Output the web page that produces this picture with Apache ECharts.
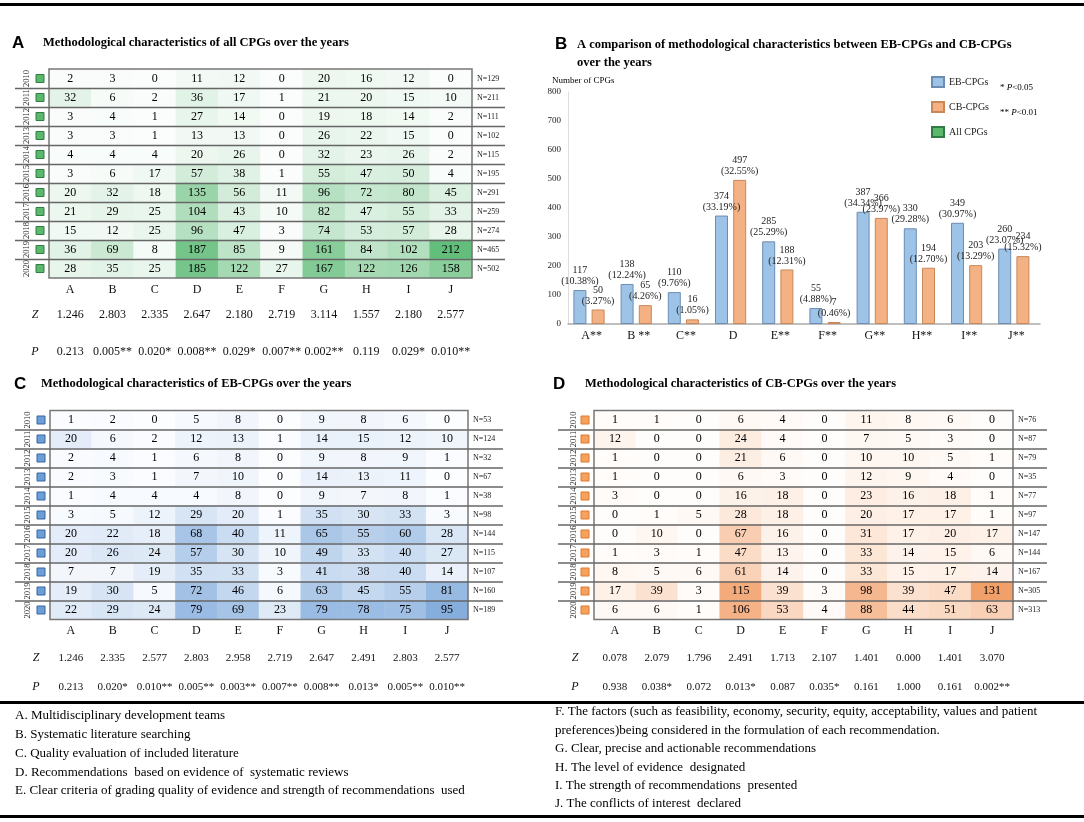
<!DOCTYPE html>
<html><head><meta charset="utf-8">
<script src="https://cdn.jsdelivr.net/npm/echarts@6/dist/echarts.min.js"></script>
<style>html,body{margin:0;padding:0;background:#fff}#c{width:1084px;height:822px}</style>
</head><body><div id="c"></div>
<script>
const features = ['A','B','C','D','E','F','G','H','I','J'];
const years = ['2010','2011','2012','2013','2014','2015','2016','2017','2018','2019','2020'];

const allCounts = [
  [2,3,0,11,12,0,20,16,12,0],
  [32,6,2,36,17,1,21,20,15,10],
  [3,4,1,27,14,0,19,18,14,2],
  [3,3,1,13,13,0,26,22,15,0],
  [4,4,4,20,26,0,32,23,26,2],
  [3,6,17,57,38,1,55,47,50,4],
  [20,32,18,135,56,11,96,72,80,45],
  [21,29,25,104,43,10,82,47,55,33],
  [15,12,25,96,47,3,74,53,57,28],
  [36,69,8,187,85,9,161,84,102,212],
  [28,35,25,185,122,27,167,122,126,158]
];
const allN = ['N=129','N=211','N=111','N=102','N=115','N=195','N=291','N=259','N=274','N=465','N=502'];
const allZ = ['1.246','2.803','2.335','2.647','2.180','2.719','3.114','1.557','2.180','2.577'];
const allP = ['0.213','0.005**','0.020*','0.008**','0.029*','0.007**','0.002**','0.119','0.029*','0.010**'];

const ebCounts = [
  [1,2,0,5,8,0,9,8,6,0],
  [20,6,2,12,13,1,14,15,12,10],
  [2,4,1,6,8,0,9,8,9,1],
  [2,3,1,7,10,0,14,13,11,0],
  [1,4,4,4,8,0,9,7,8,1],
  [3,5,12,29,20,1,35,30,33,3],
  [20,22,18,68,40,11,65,55,60,28],
  [20,26,24,57,30,10,49,33,40,27],
  [7,7,19,35,33,3,41,38,40,14],
  [19,30,5,72,46,6,63,45,55,81],
  [22,29,24,79,69,23,79,78,75,95]
];
const ebN = ['N=53','N=124','N=32','N=67','N=38','N=98','N=144','N=115','N=107','N=160','N=189'];
const ebZ = ['1.246','2.335','2.577','2.803','2.958','2.719','2.647','2.491','2.803','2.577'];
const ebP = ['0.213','0.020*','0.010**','0.005**','0.003**','0.007**','0.008**','0.013*','0.005**','0.010**'];

const cbCounts = [
  [1,1,0,6,4,0,11,8,6,0],
  [12,0,0,24,4,0,7,5,3,0],
  [1,0,0,21,6,0,10,10,5,1],
  [1,0,0,6,3,0,12,9,4,0],
  [3,0,0,16,18,0,23,16,18,1],
  [0,1,5,28,18,0,20,17,17,1],
  [0,10,0,67,16,0,31,17,20,17],
  [1,3,1,47,13,0,33,14,15,6],
  [8,5,6,61,14,0,33,15,17,14],
  [17,39,3,115,39,3,98,39,47,131],
  [6,6,1,106,53,4,88,44,51,63]
];
const cbN = ['N=76','N=87','N=79','N=35','N=77','N=97','N=147','N=144','N=167','N=305','N=313'];
const cbZ = ['0.078','2.079','1.796','2.491','1.713','2.107','1.401','0.000','1.401','3.070'];
const cbP = ['0.938','0.038*','0.072','0.013*','0.087','0.035*','0.161','1.000','0.161','0.002**'];

const barCategories = ['A**','B **','C**','D','E**','F**','G**','H**','I**','J**'];
const ebTotals = [117,138,110,374,285,55,387,330,349,260];
const ebPct = ['10.38%','12.24%','9.76%','33.19%','25.29%','4.88%','34.34%','29.28%','30.97%','23.07%'];
const cbTotals = [50,65,16,497,188,7,366,194,203,234];
const cbPct = ['3.27%','4.26%','1.05%','32.55%','12.31%','0.46%','23.97%','12.70%','13.29%','15.32%'];
const barTicks = {min:0, max:800, interval:100};

const legendLeft = [
  'A. Multidisciplinary development teams',
  'B. Systematic literature searching',
  'C. Quality evaluation of included literature',
  'D. Recommendations  based on evidence of  systematic reviews',
  'E. Clear criteria of grading quality of evidence and strength of recommendations  used'
];
const legendRight = [
  'F. The factors (such as feasibility, economy, security, equity, acceptability, values and patient',
  'preferences)being considered in the formulation of each recommendation.',
  'G. Clear, precise and actionable recommendations',
  'H. The level of evidence  designated',
  'I. The strength of recommendations  presented',
  'J. The conflicts of interest  declared'
];

const SERIF = '"Liberation Serif", "Times New Roman", serif';
const SANS = '"Liberation Sans", Arial, sans-serif';

function toCells(m){ const out=[]; m.forEach((row,r)=>row.forEach((v,c)=>out.push([c,r,v]))); return out; }

function heatAxes(gi, letterMargin, yearMargin){
  return {
    x: {type:'category', gridIndex:gi, data:features, axisLine:{show:false}, axisTick:{show:false},
        axisLabel:{interval:0, margin:letterMargin, fontFamily:SERIF, fontSize:12, color:'#111'}, splitLine:{show:false}},
    y: {type:'category', gridIndex:gi, data:years, inverse:true, axisLine:{show:false}, axisTick:{show:false},
        axisLabel:{interval:0, rotate:90, margin:yearMargin, fontFamily:SERIF, fontSize:8.5, color:'#222'}, splitLine:{show:false}}
  };
}
function nAxis(gi, arr){
  return {type:'category', gridIndex:gi, position:'right', data:arr, inverse:true, axisLine:{show:false}, axisTick:{show:false},
    axisLabel:{interval:0, margin:5, fontFamily:SERIF, fontSize:8, color:'#222', padding:[5,0,0,0]}, splitLine:{show:false}};
}
function heatSeries(xi, yi, counts){
  return {type:'heatmap', xAxisIndex:xi, yAxisIndex:yi, data:toCells(counts),
    label:{show:true, fontFamily:SERIF, fontSize:12, color:'#000'}, itemStyle:{borderWidth:0}, emphasis:{disabled:true}};
}
function decorSeries(xi, yi, fill, stroke, leftExt, rightExt){
  return {type:'custom', xAxisIndex:xi, yAxisIndex:yi, clip:false, silent:true, z:5,
    data: years.map((y,i)=>[0,i]),
    renderItem(params, api){
      const cs = params.coordSys; const i = params.dataIndex;
      const c = api.coord([0,i]); const h = api.size([1,1])[1];
      const ch = [{type:'rect', shape:{x:cs.x-13, y:c[1]-4, width:8, height:8}, style:{fill:fill, stroke:stroke, lineWidth:1}}];
      if (i < years.length-1) ch.push({type:'line', shape:{x1:cs.x-leftExt, y1:c[1]+h/2+0.5, x2:cs.x+cs.width+rightExt, y2:c[1]+h/2+0.5}, style:{stroke:'#666', lineWidth:1.5}});
      if (i === 0) ch.push({type:'rect', shape:{x:cs.x, y:cs.y, width:cs.width, height:cs.height}, style:{fill:null, stroke:'#777', lineWidth:1.5}});
      return {type:'group', children:ch};
    }};
}
function statsSeries(xi, yi, zArr, pArr, zOff, pOff, fs, labelDx){
  return {type:'custom', xAxisIndex:xi, yAxisIndex:yi, clip:false, silent:true, z:5,
    data: zArr.map((z,i)=>[i,0]),
    renderItem(params, api){
      const cs = params.coordSys; const i = params.dataIndex;
      const x = api.coord([i,0])[0]; const yb = cs.y + cs.height;
      const ch = [
        {type:'text', style:{text:zArr[i], x:x, y:yb+zOff, align:'center', verticalAlign:'middle', fontFamily:SERIF, fontSize:fs, fill:'#111'}},
        {type:'text', style:{text:pArr[i], x:x, y:yb+pOff, align:'center', verticalAlign:'middle', fontFamily:SERIF, fontSize:fs, fill:'#111'}}
      ];
      if (i===0){
        ch.push({type:'text', style:{text:'Z', x:cs.x+labelDx, y:yb+zOff, align:'center', verticalAlign:'middle', fontFamily:SERIF, fontStyle:'italic', fontSize:12, fill:'#111'}});
        ch.push({type:'text', style:{text:'P', x:cs.x+labelDx, y:yb+pOff, align:'center', verticalAlign:'middle', fontFamily:SERIF, fontStyle:'italic', fontSize:12, fill:'#111'}});
      }
      return {type:'group', children:ch};
    }};
}

const aAx = heatAxes(0, 6, 18), cAx = heatAxes(1, 5, 18), dAx = heatAxes(2, 5, 16);

function txt(x, y, text, font, extra){
  return Object.assign({type:'text', x:x, y:y, silent:true, style:{text:text, font:font, fill:'#000', verticalAlign:'middle'}}, extra||{});
}
const graphics = [
  {type:'rect', shape:{x:0, y:3, width:1084, height:3}, style:{fill:'#000'}, silent:true},
  {type:'rect', shape:{x:0, y:701, width:1084, height:3}, style:{fill:'#000'}, silent:true},
  {type:'rect', shape:{x:0, y:815, width:1084, height:3}, style:{fill:'#000'}, silent:true},
  txt(12, 43, 'A', 'bold 17px ' + SANS),
  txt(43, 43, 'Methodological characteristics of all CPGs over the years', 'bold 12.5px ' + SERIF),
  txt(555, 44, 'B', 'bold 17px ' + SANS),
  txt(577, 45, 'A comparison of methodological characteristics between EB-CPGs and CB-CPGs', 'bold 12.5px ' + SERIF),
  txt(577, 63, 'over the years', 'bold 12.5px ' + SERIF),
  txt(552, 81, 'Number of CPGs', '9px ' + SERIF),
  {type:'text', x:1000, y:88, silent:true, style:{text:'{n|* }{i|P}{n|<0.05}', verticalAlign:'middle', rich:{n:{fontFamily:SERIF, fontSize:9, fill:'#000'}, i:{fontFamily:SERIF, fontSize:9, fontStyle:'italic', fill:'#000'}}}},
  {type:'text', x:1000, y:113, silent:true, style:{text:'{n|** }{i|P}{n|<0.01}', verticalAlign:'middle', rich:{n:{fontFamily:SERIF, fontSize:9, fill:'#000'}, i:{fontFamily:SERIF, fontSize:9, fontStyle:'italic', fill:'#000'}}}},
  txt(14, 384, 'C', 'bold 17px ' + SANS),
  txt(41, 384, 'Methodological characteristics of EB-CPGs over the years', 'bold 12.5px ' + SERIF),
  txt(553, 384, 'D', 'bold 17px ' + SANS),
  txt(585, 384, 'Methodological characteristics of CB-CPGs over the years', 'bold 12.5px ' + SERIF)
];
legendLeft.forEach((t,i)=>graphics.push(txt(15, 716 + i*18.7, t, '13px ' + SERIF)));
legendRight.forEach((t,i)=>graphics.push(txt(555, 712 + i*18.4, t, '13px ' + SERIF)));

const option = {
  backgroundColor:'#fff',
  animation:false,
  textStyle:{fontFamily:SERIF},
  grid:[
    {left:49, top:69, width:423, height:209},
    {left:50, top:410.5, width:418, height:209},
    {left:594, top:410.5, width:419, height:209},
    {left:568, top:92, width:472, height:232}
  ],
  xAxis:[aAx.x, cAx.x, dAx.x,
    {type:'category', gridIndex:3, data:barCategories, axisLine:{lineStyle:{color:'#aaa', width:1.5}}, axisTick:{show:false},
     axisLabel:{interval:0, margin:6, fontFamily:SERIF, fontSize:12, color:'#111'}}],
  yAxis:[aAx.y, nAxis(0, allN), cAx.y, nAxis(1, ebN), dAx.y, nAxis(2, cbN),
    {type:'value', gridIndex:3, min:barTicks.min, max:barTicks.max, interval:barTicks.interval,
     axisLine:{show:true, lineStyle:{color:'#ddd'}}, axisTick:{show:false}, splitLine:{show:false},
     axisLabel:{margin:7, fontFamily:SERIF, fontSize:9, color:'#222'}}],
  visualMap:[
    {show:false, seriesIndex:0, min:0, max:212, inRange:{color:['#fbfdfc','#63BE7B']}},
    {show:false, seriesIndex:3, min:0, max:95, inRange:{color:['#fcfdff','#86AEDD']}},
    {show:false, seriesIndex:6, min:0, max:131, inRange:{color:['#fffdfb','#F2A06A']}}
  ],
  legend:{data:['EB-CPGs','CB-CPGs','All CPGs'], orient:'vertical', left:926, top:71, itemWidth:12, itemHeight:10, itemGap:13,
    icon:'rect', textStyle:{fontFamily:SERIF, fontSize:10, color:'#222'}, selectedMode:false},
  series:[
    heatSeries(0, 0, allCounts),
    decorSeries(0, 0, '#5cb86c', '#2f7d44', 34, 33),
    statsSeries(0, 0, allZ, allP, 37, 74, 12, -14),
    heatSeries(1, 2, ebCounts),
    decorSeries(1, 2, '#6b9fd8', '#3a64a0', 35, 35),
    statsSeries(1, 2, ebZ, ebP, 38.5, 67.5, 11, -14),
    heatSeries(2, 4, cbCounts),
    decorSeries(2, 4, '#f5a25f', '#e0782c', 36, 34),
    statsSeries(2, 4, cbZ, cbP, 38.5, 67.5, 11, -19),
    {name:'EB-CPGs', type:'bar', xAxisIndex:3, yAxisIndex:6, data:ebTotals, barWidth:13, barGap:'40%',
     itemStyle:{color:'#9dc3e6', borderColor:'#6d8cb4', borderWidth:1},
     label:{show:true, position:'top', distance:3, fontFamily:SERIF, fontSize:10, lineHeight:11, color:'#222',
       formatter:(p)=>p.value + '\n(' + ebPct[p.dataIndex] + ')'}},
    {name:'CB-CPGs', type:'bar', xAxisIndex:3, yAxisIndex:6, data:cbTotals, barWidth:13, barGap:'40%',
     itemStyle:{color:'#f4b183', borderColor:'#c8885a', borderWidth:1},
     label:{show:true, position:'top', distance:3, fontFamily:SERIF, fontSize:10, lineHeight:11, color:'#222',
       formatter:(p)=>p.value + '\n(' + cbPct[p.dataIndex] + ')'}},
    {name:'All CPGs', type:'bar', xAxisIndex:3, yAxisIndex:6, data:[], barWidth:0,
     itemStyle:{color:'#5cb86c', borderColor:'#2f7d44', borderWidth:1}}
  ],
  graphic: graphics
};
const chart = echarts.init(document.getElementById('c'), null, {renderer:'canvas'});
chart.setOption(option);
</script></body></html>
